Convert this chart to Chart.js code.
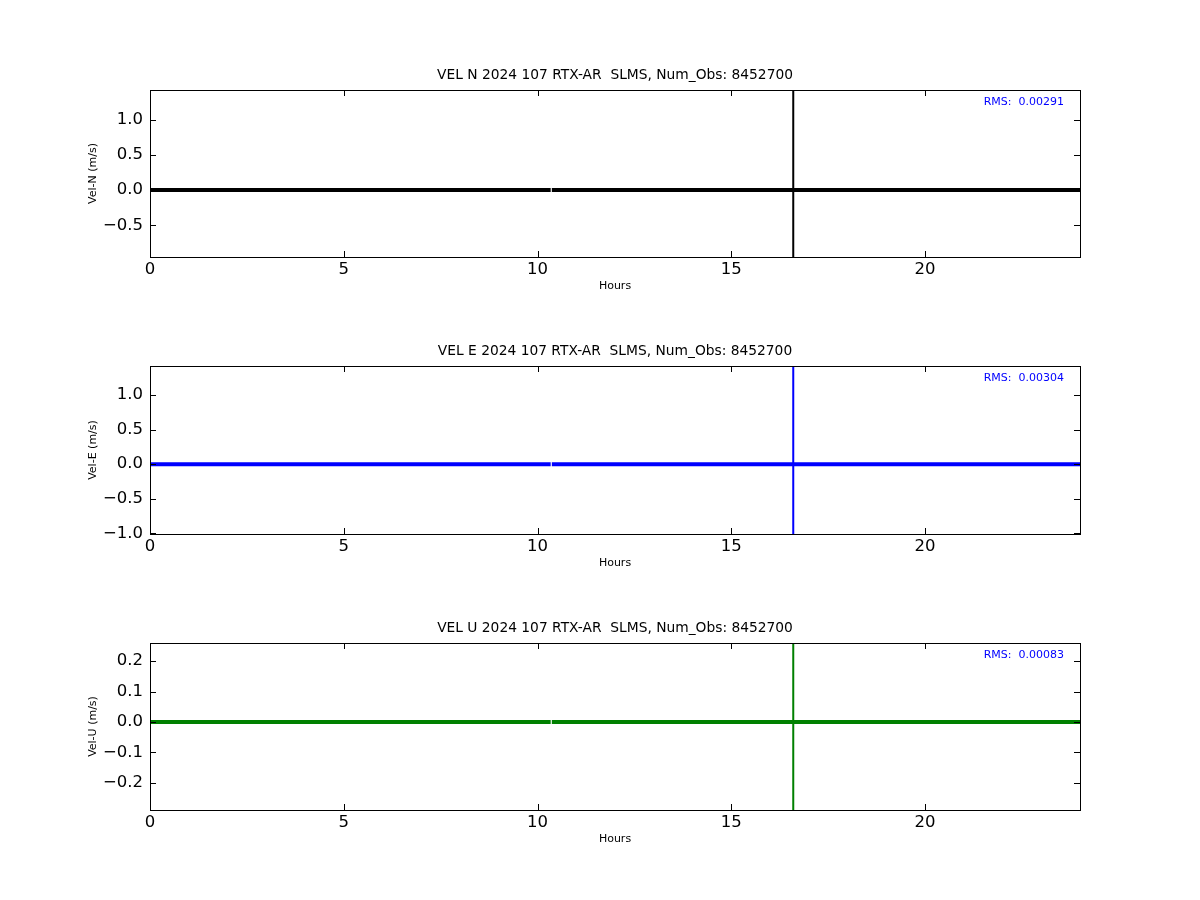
<!DOCTYPE html>
<html>
<head>
<meta charset="utf-8">
<script src="https://cdn.jsdelivr.net/npm/chart.js@4.4.1/dist/chart.umd.min.js"></script>
<style>
  html, body { margin: 0; padding: 0; background: #ffffff; }
  #wrap { position: relative; width: 1200px; height: 900px; background: #fff; }
  canvas { position: absolute; left: 0; }
</style>
</head>
<body>
<div id="wrap">
  <canvas id="cN" width="1200" height="257" style="top:50px"></canvas>
  <canvas id="cE" width="1200" height="258" style="top:326px"></canvas>
  <canvas id="cU" width="1200" height="257" style="top:603px"></canvas>
</div>
<script>
// ---- data ----
const xTickStep = 5;
const hoursMin = 0;
const hoursMax = 24;

// continuous near-zero trace with a small gap near 10.35 h
const baseHours = [0, 10.34, 10.35, 10.37, 24];
const baseN = [0.0, 0.0, null, 0.0, 0.0];
const baseE = [0.0, 0.0, null, 0.0, 0.0];
const baseU = [0.0, 0.0, null, 0.0, 0.0];

// single outlier spike near 16.6 h
const spikeHours = [16.6, 16.6];
const spikeN = [1.42, -0.95];
const spikeE = [1.42, -1.01];
const spikeU = [0.26, -0.29];

const titles = [
  "VEL N 2024 107 RTX-AR  SLMS, Num_Obs: 8452700",
  "VEL E 2024 107 RTX-AR  SLMS, Num_Obs: 8452700",
  "VEL U 2024 107 RTX-AR  SLMS, Num_Obs: 8452700"
];
const yLabels = ["Vel-N (m/s)", "Vel-E (m/s)", "Vel-U (m/s)"];
const rmsLabels = ["RMS:  0.00291", "RMS:  0.00304", "RMS:  0.00083"];
const yTickSteps = [0.5, 0.5, 0.1];
const colors = ["#000000", "#0000ff", "#008000"];

// ---- drawing ----
const FONT = "'DejaVu Sans', 'Liberation Sans', sans-serif";

function pts(xs, ys) {
  return xs.map((x, i) => ({ x: x, y: ys[i] }));
}

const framePlugin = {
  id: 'mplFrame',
  afterDraw(chart, args, opts) {
    const { ctx, chartArea: a } = chart;
    const xs = chart.scales.x, ys = chart.scales.y;
    ctx.save();
    ctx.strokeStyle = '#000';
    ctx.lineWidth = 1;
    const L = 6;
    ctx.beginPath();
    xs.ticks.forEach(t => {
      const p = Math.round(xs.getPixelForValue(t.value)) + 0.5;
      ctx.moveTo(p, a.bottom); ctx.lineTo(p, a.bottom - L);
      ctx.moveTo(p, a.top); ctx.lineTo(p, a.top + L);
    });
    ys.ticks.forEach(t => {
      const p = Math.round(ys.getPixelForValue(t.value)) + 0.5;
      ctx.moveTo(a.left, p); ctx.lineTo(a.left + L, p);
      ctx.moveTo(a.right, p); ctx.lineTo(a.right - L, p);
    });
    ctx.stroke();
    ctx.strokeRect(Math.round(a.left) + 0.5, Math.round(a.top) + 0.5,
                   Math.round(a.right - a.left), Math.round(a.bottom - a.top));
    // title
    ctx.fillStyle = '#000';
    ctx.font = '13.8px ' + FONT;
    ctx.textAlign = 'center';
    ctx.textBaseline = 'middle';
    ctx.fillText(opts.title, (a.left + a.right) / 2, a.top - 15);
    // RMS text
    ctx.fillStyle = '#0000ff';
    ctx.font = '11px ' + FONT;
    ctx.textAlign = 'right';
    ctx.fillText(opts.rms, a.right - 16, a.top + 12);
    ctx.restore();
  }
};

function fmt(v) {
  let s = Math.abs(v) < 1e-9 ? (0).toFixed(1) : v.toFixed(1);
  return s.replace('-', '\u2212');
}

function makeChart(id, idx, base, spike) {
  const all = base.concat(spike).filter(v => v !== null);
  const yMin = Math.min.apply(null, all);
  const yMax = Math.max.apply(null, all);
  const step = yTickSteps[idx];
  new Chart(document.getElementById(id), {
    type: 'line',
    data: {
      datasets: [
        {
          data: pts(baseHours, base),
          borderColor: colors[idx],
          borderWidth: 4,
          pointRadius: 0,
          spanGaps: false,
          tension: 0,
          borderCapStyle: 'butt'
        },
        {
          data: pts(spikeHours, spike),
          borderColor: colors[idx],
          borderWidth: 2,
          pointRadius: 0,
          tension: 0
        }
      ]
    },
    options: {
      responsive: false,
      animation: false,
      events: [],
      layout: { padding: { top: 40, left: 50, right: 120, bottom: 10 } },
      plugins: {
        legend: { display: false },
        title: { display: false },
        tooltip: { enabled: false },
        mplFrame: { title: titles[idx], rms: rmsLabels[idx] }
      },
      scales: {
        x: {
          type: 'linear',
          min: hoursMin,
          max: hoursMax,
          afterFit: s => { s.height = 40; },
          grid: { display: false, drawTicks: false },
          border: { display: false },
          ticks: {
            stepSize: xTickStep,
            includeBounds: false,
            autoSkip: false,
            maxRotation: 0,
            padding: 3,
            color: '#000',
            font: { family: FONT, size: 16.5 },
            callback: v => String(v)
          },
          title: {
            display: true,
            text: 'Hours',
            color: '#000',
            font: { family: FONT, size: 11 },
            padding: { top: 0, bottom: 4 }
          }
        },
        y: {
          type: 'linear',
          min: yMin,
          max: yMax,
          afterFit: s => { s.width = 100; },
          grid: { display: false, drawTicks: false },
          border: { display: false },
          ticks: {
            stepSize: step,
            includeBounds: false,
            autoSkip: false,
            padding: 7,
            color: '#000',
            font: { family: FONT, size: 16.5 },
            callback: v => fmt(v)
          },
          title: {
            display: true,
            text: yLabels[idx],
            color: '#000',
            font: { family: FONT, size: 11 },
            padding: { top: 37, bottom: 0 }
          }
        }
      }
    },
    plugins: [framePlugin]
  });
}

makeChart('cN', 0, baseN, spikeN);
makeChart('cE', 1, baseE, spikeE);
makeChart('cU', 2, baseU, spikeU);
</script>
</body>
</html>
